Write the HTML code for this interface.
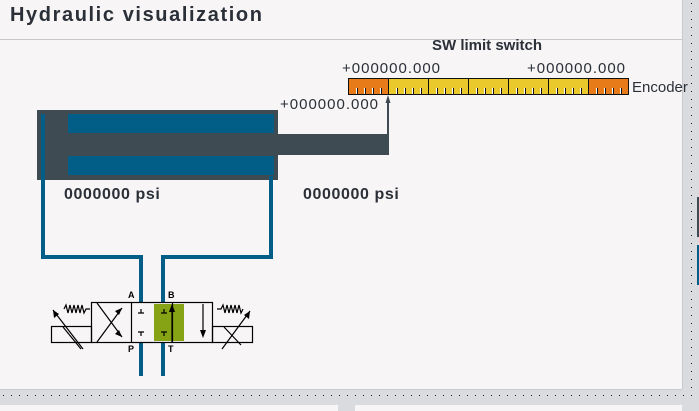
<!DOCTYPE html>
<html><head><meta charset="utf-8"><style>
html,body{margin:0;padding:0;width:699px;height:411px;overflow:hidden;background:#f7f5f6}
svg{display:block}
text{font-family:"Liberation Sans",sans-serif}
</style></head><body>
<svg width="699" height="411" viewBox="0 0 699 411" xmlns="http://www.w3.org/2000/svg">
<defs>
<pattern id="dots" width="8" height="8" patternUnits="userSpaceOnUse"><rect x="3" y="3" width="1" height="1" fill="#222"/></pattern>
</defs>
<rect width="699" height="411" fill="#f7f5f6"/>
<text x="10" y="21" font-size="20" font-weight="bold" letter-spacing="1.6" fill="#2b3038">Hydraulic visualization</text>
<line x1="0" y1="39.5" x2="683" y2="39.5" stroke="#c8c8cc" stroke-width="1"/>
<rect x="682" y="0" width="17" height="411" fill="#dadbdf"/>
<line x1="682.5" y1="0" x2="682.5" y2="389" stroke="#c8c9cd"/>
<rect x="688" y="0" width="8" height="411" fill="url(#dots)"/>
<rect x="697" y="197" width="2" height="40" fill="#3f4b52"/>
<rect x="697" y="245" width="2" height="40" fill="#025e87"/>
<rect x="0" y="389" width="699" height="16" fill="#dadbdf"/>
<line x1="0" y1="389.5" x2="682" y2="389.5" stroke="#c8c9cd"/>
<rect x="0" y="393" width="699" height="8" fill="url(#dots)"/>
<rect x="338" y="405" width="17" height="6" fill="#dadbdf"/>
<text x="487" y="50" font-size="15" font-weight="bold" text-anchor="middle" fill="#2b3038">SW limit switch</text>
<text x="342" y="73" font-size="15" letter-spacing="1" fill="#2b3038">+000000.000</text>
<text x="527" y="73" font-size="15" letter-spacing="1" fill="#2b3038">+000000.000</text>
<text x="280" y="109" font-size="15" letter-spacing="1" fill="#2b3038">+000000.000</text>
<g stroke="#111" stroke-width="1">
<rect x="348.5" y="78.5" width="40" height="16" fill="#e77a19"/>
<rect x="388.5" y="78.5" width="40" height="16" fill="#e9c92c"/>
<rect x="428.5" y="78.5" width="40" height="16" fill="#e9c92c"/>
<rect x="468.5" y="78.5" width="40" height="16" fill="#e9c92c"/>
<rect x="508.5" y="78.5" width="40" height="16" fill="#e9c92c"/>
<rect x="548.5" y="78.5" width="40" height="16" fill="#e9c92c"/>
<rect x="588.5" y="78.5" width="40" height="16" fill="#e77a19"/>
</g>
<g stroke="#fff" stroke-width="1">
<path d="M356.5 88v6M364.5 88v6M372.5 88v6M380.5 88v6M396.5 88v6M404.5 88v6M412.5 88v6M420.5 88v6M436.5 88v6M444.5 88v6M452.5 88v6M460.5 88v6M476.5 88v6M484.5 88v6M492.5 88v6M500.5 88v6M516.5 88v6M524.5 88v6M532.5 88v6M540.5 88v6M556.5 88v6M564.5 88v6M572.5 88v6M580.5 88v6M596.5 88v6M604.5 88v6M612.5 88v6M620.5 88v6"/>
</g>
<g stroke="#111" stroke-width="1">
<path d="M357.5 88v6M365.5 88v6M373.5 88v6M381.5 88v6M397.5 88v6M405.5 88v6M413.5 88v6M421.5 88v6M437.5 88v6M445.5 88v6M453.5 88v6M461.5 88v6M477.5 88v6M485.5 88v6M493.5 88v6M501.5 88v6M517.5 88v6M525.5 88v6M533.5 88v6M541.5 88v6M557.5 88v6M565.5 88v6M573.5 88v6M581.5 88v6M597.5 88v6M605.5 88v6M613.5 88v6M621.5 88v6"/>
</g>
<text x="632" y="92" font-size="15" fill="#2b3038">Encoder</text>
<rect x="387" y="98" width="2" height="40" fill="#3f4b52"/>
<polygon points="388,95 385.5,103 390.5,103" fill="#3f4b52"/>
<rect x="37" y="110" width="241" height="70" fill="#3f4b52"/>
<rect x="68" y="114" width="206" height="19" fill="#025e87"/>
<rect x="68" y="156" width="206" height="19" fill="#025e87"/>
<rect x="278" y="134" width="111" height="21" fill="#3f4b52"/>
<g fill="none" stroke="#025e87" stroke-width="4">
<path d="M43 114 V257 H141 V302"/>
<path d="M271 176 V257 H163 V302"/>
<path d="M141 342 V376"/>
<path d="M163 342 V376"/>
</g>
<text x="64" y="199" font-size="16" font-weight="bold" letter-spacing="0.6" fill="#2b3038">0000000 psi</text>
<text x="303" y="199" font-size="16" font-weight="bold" letter-spacing="0.6" fill="#2b3038">0000000 psi</text>
<rect x="154" y="304" width="30" height="37" fill="#86a315"/>
<g fill="none" stroke="#000" stroke-width="1.2">
<rect x="91.5" y="302.5" width="121" height="40"/>
<line x1="131.5" y1="302" x2="131.5" y2="343"/>
<line x1="172.5" y1="302" x2="172.5" y2="343"/>
<rect x="51.5" y="326.5" width="40" height="16"/>
<rect x="212.5" y="326.5" width="40" height="16"/>
<path d="M97 342 L122 308 M97 303 L122 337"/>
<path d="M141 309v4M138 313h6M141 336v-4M138 332h6"/>
<path d="M164 309v4M161 313h6M164 336v-4M161 332h6"/>
<path d="M172 342V307"/>
<path d="M203 304V334"/>
<path d="M64 309l2-4 2 8 2-8 2 8 2-8 2 8 2-8 2 8 2-8 2 8 2-4h4"/>
<path d="M217 309h4l2-4 2 8 2-8 2 8 2-8 2 8 2-8 2 8 2-8 2 8 2-4"/>
<path d="M63 327 L81 349"/>
<path d="M222 349 L250 311 M224 327 L241 345"/>
<path d="M53 310 L83 349"/>
</g>
<g fill="#000">
<polygon points="122,308 115,311 119,315"/>
<polygon points="122,337 115,334 119,330"/>
<polygon points="172,304 169,312 175,312"/>
<polygon points="203,338 200,330 206,330"/>
<polygon points="53,310 54,318 59,314"/>
<polygon points="250,311 244,315 249,319"/>
</g>
<g font-size="9" font-weight="bold" fill="#000">
<text x="128" y="298">A</text>
<text x="168" y="298">B</text>
<text x="128" y="352">P</text>
<text x="168" y="352">T</text>
</g>
</svg>
</body></html>
